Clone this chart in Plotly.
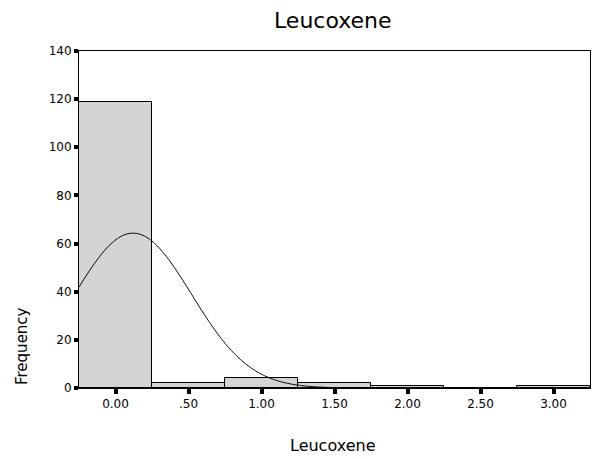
import numpy as np
import plotly.graph_objects as go

# Histogram data (bin centers, bin width 0.5)
bin_centers = [0.0, 0.5, 1.0, 1.5, 2.0, 2.5, 3.0]
frequencies = [119, 2, 4, 2, 1, 0, 1]
bin_width = 0.5

# Fitted normal curve parameters (as shown by SPSS)
curve_mean = 0.12
curve_sd = 0.40
n_total = sum(frequencies)

x_tickvals = [0.0, 0.5, 1.0, 1.5, 2.0, 2.5, 3.0]
x_ticktext = ["0.00", ".50", "1.00", "1.50", "2.00", "2.50", "3.00"]
y_tickvals = [0, 20, 40, 60, 80, 100, 120, 140]

FONT = "DejaVu Sans"

xs = np.linspace(-0.25, 3.25, 400)
ys = n_total * bin_width / (curve_sd * np.sqrt(2 * np.pi)) * np.exp(-0.5 * ((xs - curve_mean) / curve_sd) ** 2)

fig = go.Figure()
fig.add_trace(go.Bar(
    x=bin_centers, y=frequencies, width=bin_width,
    marker=dict(color="#d4d4d4", line=dict(color="black", width=1)),
    showlegend=False, hoverinfo="x+y",
))
fig.add_trace(go.Scatter(
    x=xs, y=ys, mode="lines",
    line=dict(color="black", width=1, shape="spline"),
    showlegend=False, hoverinfo="skip",
))

W, H = 595, 459
L, R, T, B = 79, 5, 51, 71
pw, ph = W - L - R, H - T - B

def px(xp):
    return (xp - L) / pw

def py(yp):
    return (H - B - yp) / ph

fig.update_layout(
    width=W, height=H,
    margin=dict(l=L, r=R, t=T, b=B, pad=0),
    paper_bgcolor="white", plot_bgcolor="white",
    font=dict(family=FONT, size=12, color="black"),
    bargap=0,
    xaxis=dict(
        range=[-0.25, 3.25], tickvals=x_tickvals, ticktext=x_ticktext,
        ticks="outside", ticklen=5, tickwidth=4, tickcolor="black",
        showline=True, linecolor="black", linewidth=1, mirror=True,
        showgrid=False, zeroline=False,
        tickfont=dict(family=FONT, size=12, color="black"),
    ),
    yaxis=dict(
        range=[0, 140], tickvals=y_tickvals,
        ticks="outside", ticklen=4, tickwidth=4, tickcolor="black",
        showline=True, linecolor="black", linewidth=1, mirror=True,
        showgrid=False, zeroline=False,
        tickfont=dict(family=FONT, size=12, color="black"),
    ),
    annotations=[
        dict(text="Leucoxene", xref="paper", yref="paper", x=px(333), y=py(20),
             xanchor="center", yanchor="middle", showarrow=False,
             font=dict(family=FONT, size=22, color="black")),
        dict(text="Leucoxene", xref="paper", yref="paper", x=px(333), y=py(445),
             xanchor="center", yanchor="middle", showarrow=False,
             font=dict(family=FONT, size=16, color="black")),
        dict(text="Frequency", xref="paper", yref="paper", x=px(22), y=py(346),
             xanchor="center", yanchor="middle", showarrow=False, textangle=-90,
             font=dict(family=FONT, size=15, color="black")),
    ],
)

fig.write_html("out.html")
